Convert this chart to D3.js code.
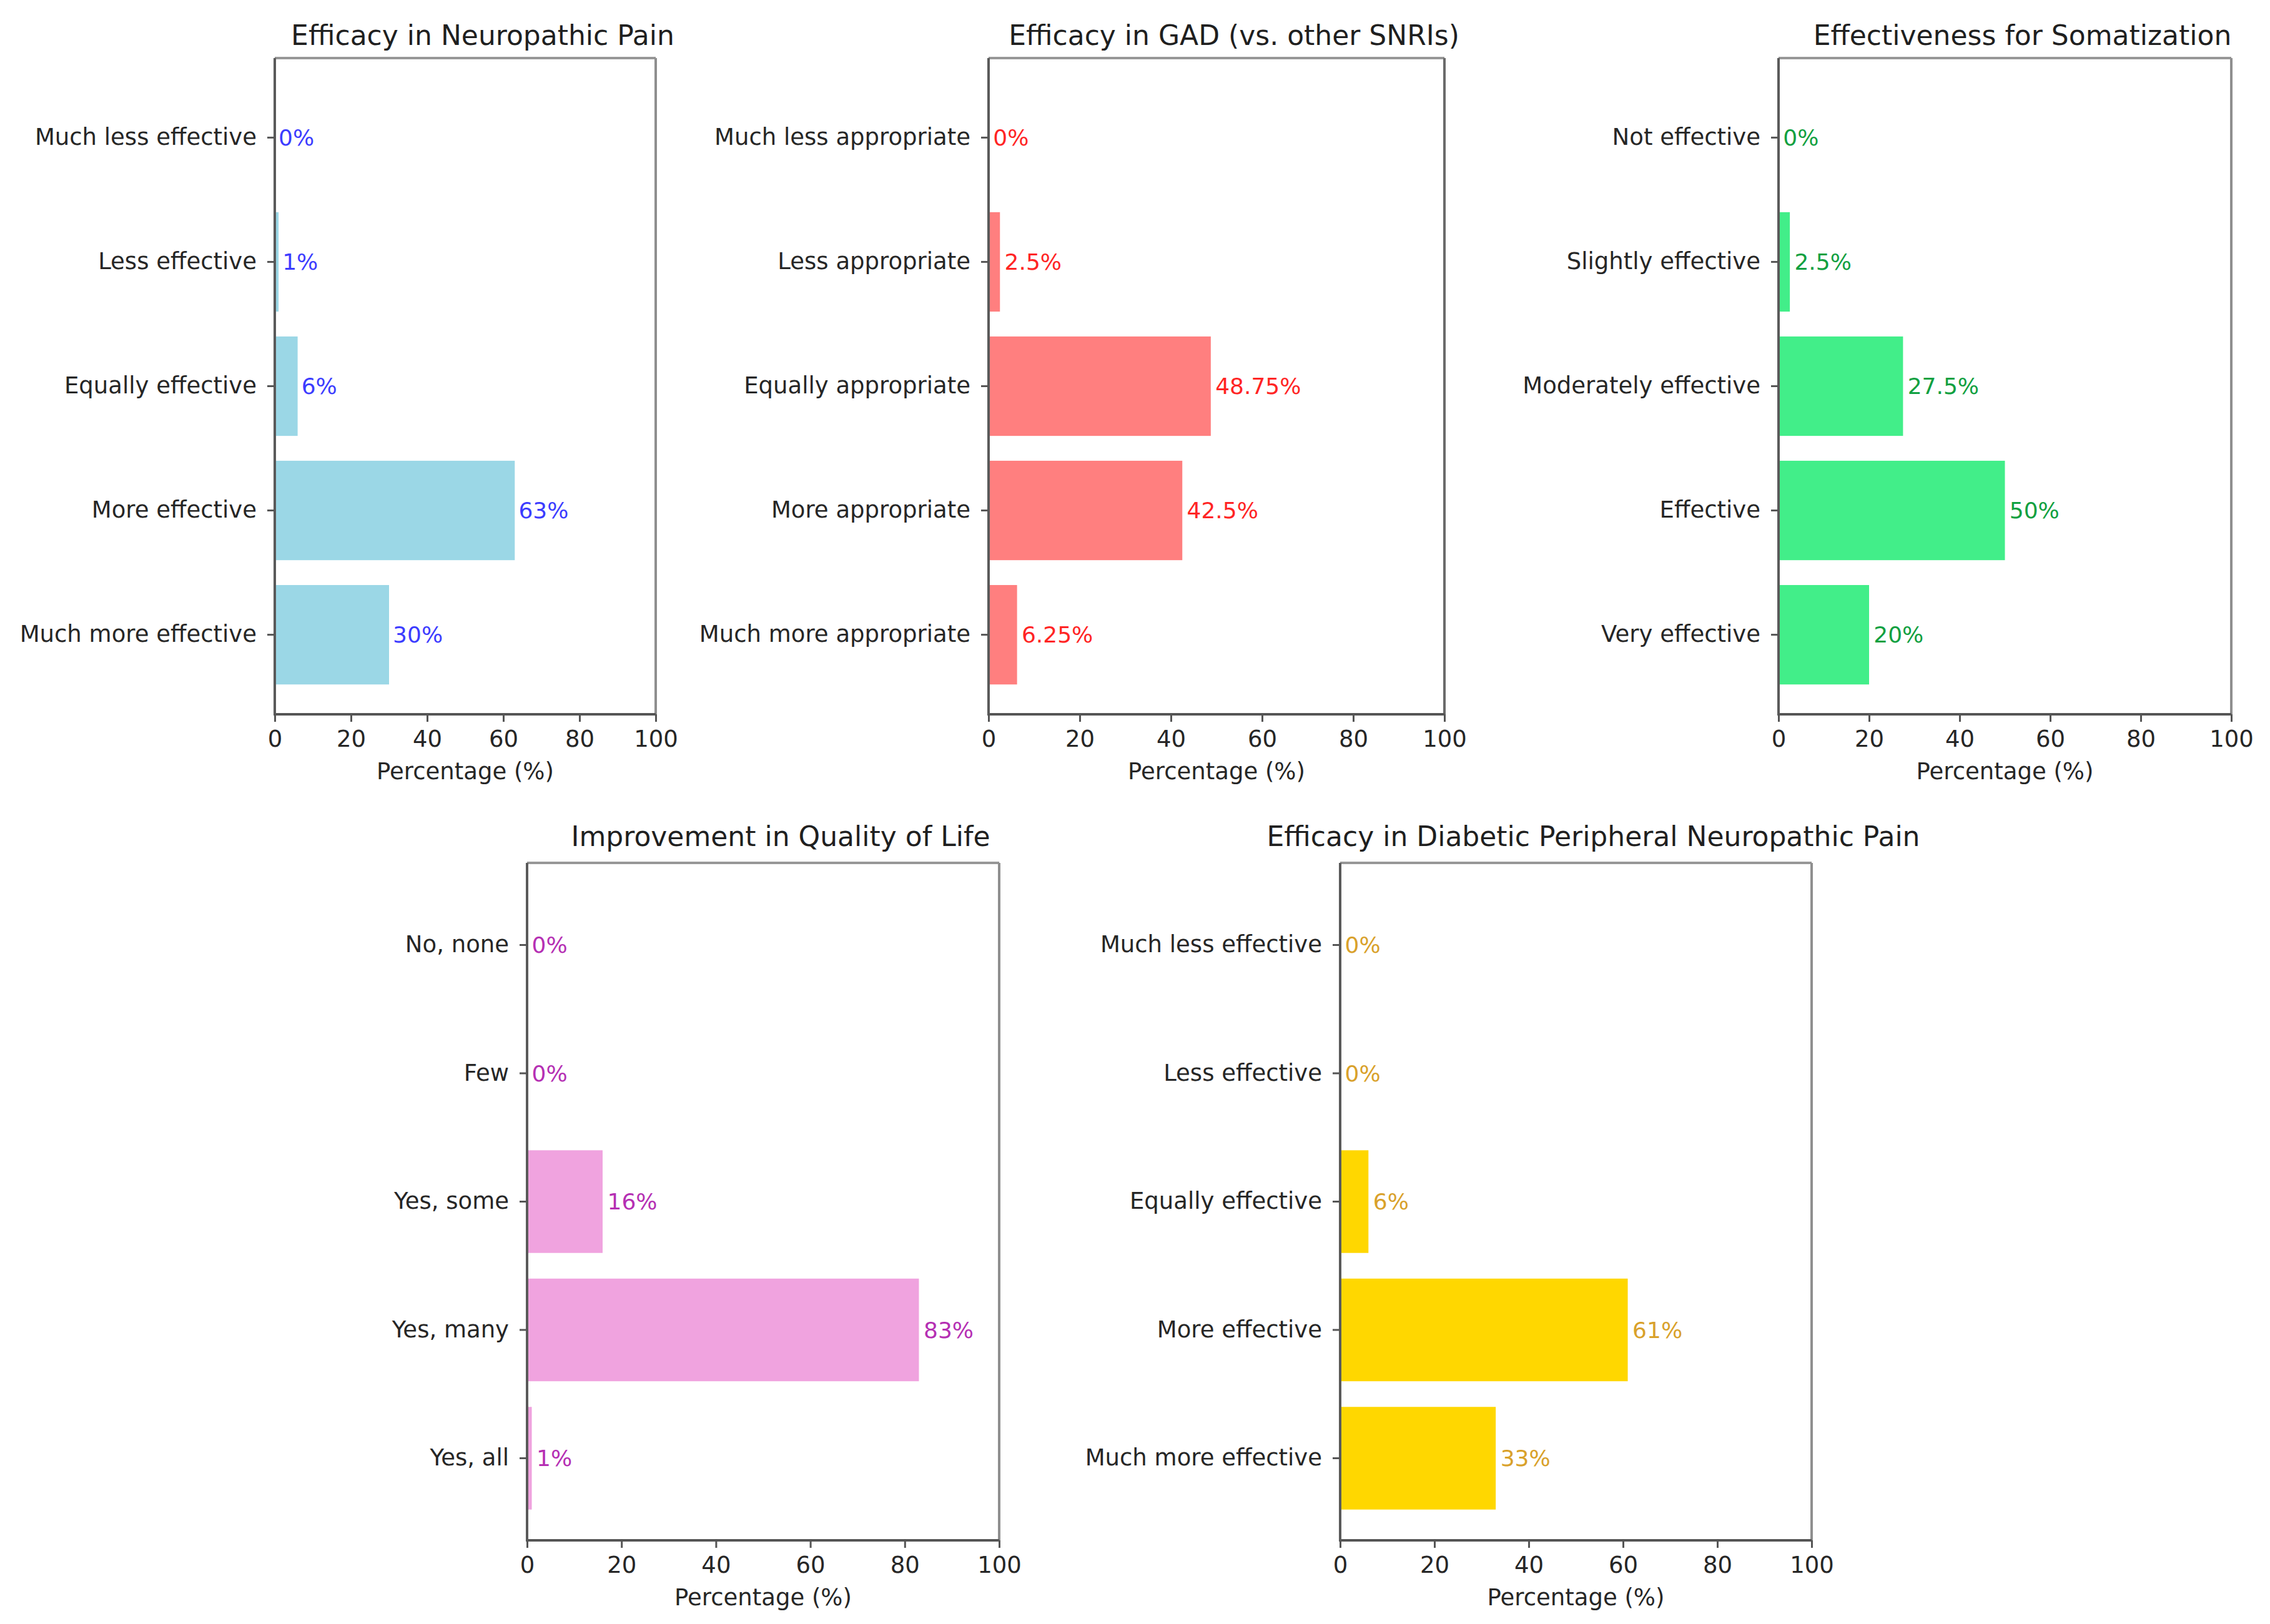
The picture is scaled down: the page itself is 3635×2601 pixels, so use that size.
<!DOCTYPE html>
<html>
<head>
<meta charset="utf-8">
<script src="https://cdn.jsdelivr.net/npm/d3@7"></script>
<style>
  body { margin: 0; background: #fff; }
  svg { display: block; font-family: "DejaVu Sans", sans-serif; }
</style>
</head>
<body>
<div id="chart"></div>
<script>
// chart data
const neuropathicCats = ["Much less effective", "Less effective", "Equally effective", "More effective", "Much more effective"];
const neuropathicVals = [0, 1, 6, 63, 30];

const gadCats = ["Much less appropriate", "Less appropriate", "Equally appropriate", "More appropriate", "Much more appropriate"];
const gadVals = [0, 2.5, 48.75, 42.5, 6.25];

const somatCats = ["Not effective", "Slightly effective", "Moderately effective", "Effective", "Very effective"];
const somatVals = [0, 2.5, 27.5, 50, 20];

const qolCats = ["No, none", "Few", "Yes, some", "Yes, many", "Yes, all"];
const qolVals = [0, 0, 16, 83, 1];

const dpnCats = ["Much less effective", "Less effective", "Equally effective", "More effective", "Much more effective"];
const dpnVals = [0, 0, 6, 61, 33];

const titles = [
  "Efficacy in Neuropathic Pain",
  "Efficacy in GAD (vs. other SNRIs)",
  "Effectiveness for Somatization",
  "Improvement in Quality of Life",
  "Efficacy in Diabetic Peripheral Neuropathic Pain",
];
const xTicks = [0, 20, 40, 60, 80, 100];

// panel frames and styling
const panels = [
  { cats: neuropathicCats, vals: neuropathicVals, x0: 440, x1: 1050, y0: 93, y1: 1144, bar: "#9bd7e6", label: "#3c3cff" },
  { cats: gadCats, vals: gadVals, x0: 1583, x1: 2313, y0: 93, y1: 1144, bar: "#ff7f7f", label: "#ff2424" },
  { cats: somatCats, vals: somatVals, x0: 2848, x1: 3573, y0: 93, y1: 1144, bar: "#42ee89", label: "#10a040" },
  { cats: qolCats, vals: qolVals, x0: 844, x1: 1600, y0: 1382, y1: 2467, bar: "#f0a3df", label: "#b52fb3" },
  { cats: dpnCats, vals: dpnVals, x0: 2146, x1: 2901, y0: 1382, y1: 2467, bar: "#ffd700", label: "#d9a12a" },
];
const titleBaselines = [72, 72, 72, 1355, 1355];

const width = 3635;
const height = 2601;
const textColor = "#262626";
const fontSize = 37;

const svg = d3.select("#chart")
  .append("svg")
  .attr("width", width)
  .attr("height", height);

svg.append("rect").attr("width", width).attr("height", height).attr("fill", "#fff");

panels.forEach((p, i) => {
  const x = d3.scaleLinear().domain([0, 100]).range([p.x0, p.x1]);
  const y = d3.scaleBand().domain(p.cats).range([p.y0, p.y1]).paddingInner(0.2).paddingOuter(0.24);

  const g = svg.append("g");

  g.append("g")
    .selectAll("rect")
    .data(p.cats)
    .join("rect")
    .attr("x", x(0))
    .attr("y", (c) => y(c))
    .attr("width", (c, j) => x(p.vals[j]) - x(0))
    .attr("height", y.bandwidth())
    .attr("fill", p.bar);

  g.append("g")
    .selectAll("text")
    .data(p.cats)
    .join("text")
    .attr("x", (c, j) => x(p.vals[j] + 1))
    .attr("y", (c) => y(c) + y.bandwidth() / 2)
    .attr("dy", "0.35em")
    .attr("fill", p.label)
    .style("font-size", "36px")
    .text((c, j) => `${p.vals[j]}%`);

  // spines
  const lightSpine = i === 1 ? "#6a6a6a" : "#8f8f8f";
  g.append("line").attr("x1", p.x0).attr("x2", p.x1).attr("y1", p.y0).attr("y2", p.y0)
    .attr("stroke", "#979797").attr("stroke-width", 4);
  g.append("line").attr("x1", p.x1).attr("x2", p.x1).attr("y1", p.y0).attr("y2", p.y1)
    .attr("stroke", lightSpine).attr("stroke-width", 4);
  g.append("line").attr("x1", p.x0).attr("x2", p.x1).attr("y1", p.y1).attr("y2", p.y1)
    .attr("stroke", "#555").attr("stroke-width", 4);
  g.append("line").attr("x1", p.x0).attr("x2", p.x0).attr("y1", p.y0).attr("y2", p.y1 + 2)
    .attr("stroke", "#5a5a5a").attr("stroke-width", 4);

  const yAxis = g.append("g")
    .attr("transform", `translate(${p.x0},0)`)
    .call(d3.axisLeft(y).tickSize(12).tickPadding(17));
  const xAxis = g.append("g")
    .attr("transform", `translate(0,${p.y1})`)
    .call(d3.axisBottom(x).tickValues(xTicks).tickSize(12).tickPadding(14));

  [yAxis, xAxis].forEach((ax) => {
    ax.select(".domain").remove();
    ax.selectAll(".tick line").attr("stroke", "#555").attr("stroke-width", 3);
    ax.selectAll(".tick text")
      .attr("fill", textColor)
      .style("font-size", `${fontSize}px`)
      .style("font-family", "DejaVu Sans");
  });

  g.append("text")
    .attr("x", (p.x0 + p.x1) / 2)
    .attr("y", p.y1 + 104)
    .attr("text-anchor", "middle")
    .attr("fill", textColor)
    .style("font-size", `${fontSize}px`)
    .text("Percentage (%)");

  g.append("text")
    .attr("x", (p.x0 + p.x1) / 2 + 28)
    .attr("y", titleBaselines[i])
    .attr("text-anchor", "middle")
    .attr("fill", "#1f1f1f")
    .style("font-size", "44px")
    .text(titles[i]);
});
</script>
</body>
</html>
